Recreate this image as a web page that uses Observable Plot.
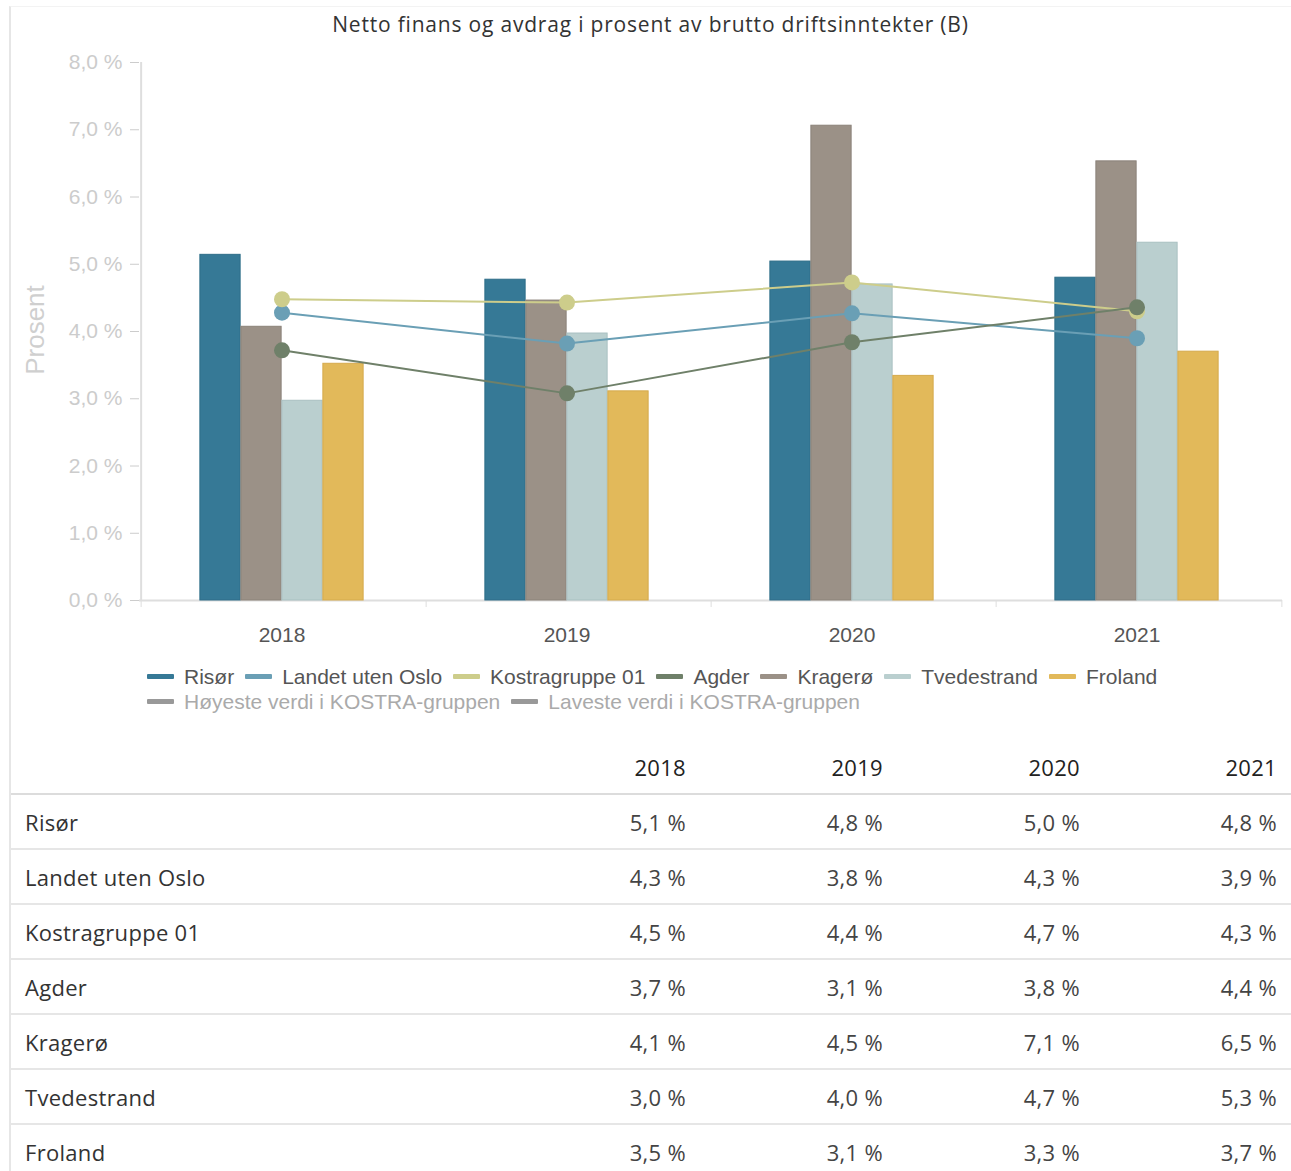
<!DOCTYPE html>
<html><head><meta charset="utf-8">
<script src="https://cdn.jsdelivr.net/npm/d3@7"></script>
<script src="https://cdn.jsdelivr.net/npm/@observablehq/plot@0.6"></script>
<style>
html,body{margin:0;padding:0;background:#fff;}
body{width:1291px;height:1171px;overflow:hidden;position:relative;font-family:"Open Sans",sans-serif;}
#frame{position:absolute;left:9px;top:6px;width:1282px;height:1165px;border-left:2px solid #e6e6e6;border-top:1px solid #f3f3f3;box-sizing:border-box;}
#title{position:absolute;left:10px;width:1281px;top:10px;text-align:center;font-size:21px;letter-spacing:0.8px;color:#333;}
#ylabel{position:absolute;left:35px;top:330px;transform:translate(-50%,-50%) rotate(-90deg);font-family:"Liberation Sans",Arial,sans-serif;font-size:26px;color:#cfcfcf;white-space:nowrap;}
#chart{position:absolute;left:0;top:45px;}
#legend{position:absolute;left:147px;top:664px;font-family:"Liberation Sans",Arial,sans-serif;font-size:21px;line-height:25px;}
.lrow{display:flex;align-items:center;white-space:nowrap;}
.item{display:flex;align-items:center;margin-right:11px;}
.sw{width:27px;height:5px;margin-right:10px;border-radius:1px;}
table{position:absolute;left:11px;top:740px;width:1280px;border-collapse:collapse;table-layout:fixed;font-family:"Open Sans",sans-serif;font-size:22px;letter-spacing:0.3px;color:#333;}
td,th{height:53px;padding:0 10px 0 0;border-bottom:2px solid #e6e6e6;text-align:right;white-space:nowrap;color:#444;}
th{font-weight:500;color:#222;border-bottom:2px solid #dcdcdc;}
td.lab{text-align:left;padding-left:14px;color:#333;}
td:last-child,th:last-child{padding-right:14px;}
</style>
</head><body>
<div id="frame"></div>
<div id="title">Netto finans og avdrag i prosent av brutto driftsinntekter (B)</div>
<div id="ylabel">Prosent</div>
<div id="chart"></div>
<div id="legend"></div>
<table id="tbl"></table>
<script>
// ---- data ----
const years = ["2018", "2019", "2020", "2021"];
const risor = [5.14, 4.77, 5.04, 4.80];
const landet = [4.28, 3.82, 4.27, 3.90];
const kostra = [4.48, 4.43, 4.73, 4.30];
const agder = [3.72, 3.08, 3.84, 4.36];
const kragero = [4.07, 4.46, 7.06, 6.53];
const tvedestrand = [2.97, 3.97, 4.70, 5.32];
const froland = [3.52, 3.11, 3.34, 3.70];
const yTicks = [0, 1, 2, 3, 4, 5, 6, 7, 8];

const seriesNames = ["Risør", "Landet uten Oslo", "Kostragruppe 01", "Agder", "Kragerø", "Tvedestrand", "Froland"];
const seriesValues = [risor, landet, kostra, agder, kragero, tvedestrand, froland];
const seriesColors = ["#367996", "#6a9fb5", "#cdcd8b", "#6f8069", "#9b9187", "#bacfcf", "#e2b95a"];
const seriesStrokes = ["#2e6d88", "#6a9fb5", "#cdcd8b", "#6f8069", "#8b8279", "#a9c0c1", "#d5aa4c"];
const barSeries = ["Risør", "Kragerø", "Tvedestrand", "Froland"];
const lineSeries = ["Landet uten Oslo", "Kostragruppe 01", "Agder"];
const extraLegend = ["Høyeste verdi i KOSTRA-gruppen", "Laveste verdi i KOSTRA-gruppen"];

const rows = [];
seriesNames.forEach((s, i) => years.forEach((y, j) => rows.push({series: s, year: y, value: seriesValues[i][j]})));
const colorOf = s => seriesColors[seriesNames.indexOf(s)];
const strokeOf = s => seriesStrokes[seriesNames.indexOf(s)];

const W = 1291, ML = 139, MR = 9;
const bw = (W - ML - MR) / years.length;
const barW = 41;
const inset = (bw - barW) / 2;
const fmt = v => v.toFixed(1).replace(".", ",") + " %";

const marks = [];
marks.push(Plot.ruleY([0], {stroke: "#dedede", strokeWidth: 2}));
marks.push(Plot.ruleX([years[0]], {dx: -bw / 2, stroke: "#dedede", strokeWidth: 2}));
marks.push(Plot.axisY({ticks: yTicks, tickFormat: fmt, tickSize: 9, tickPadding: 8, fontSize: 21, color: "#cccccc", label: null}));
marks.push(Plot.axisX({tickSize: 0, tickPadding: 27, fontSize: 21, color: "#555", label: null, dx: -2}));
marks.push(Plot.axisX({tickSize: 7, tickFormat: () => "", dx: -bw / 2, color: "#dedede", label: null}));
marks.push(Plot.axisX({ticks: [years[years.length - 1]], tickSize: 7, tickFormat: () => "", dx: bw / 2, color: "#dedede", label: null}));
barSeries.forEach((s, i) => {
  marks.push(Plot.barY(rows.filter(r => r.series === s), {
    x: "year", y: "value", fill: colorOf(s), stroke: strokeOf(s), strokeWidth: 1,
    dx: (i - (barSeries.length - 1) / 2) * barW - 2, insetLeft: inset, insetRight: inset
  }));
});
lineSeries.forEach(s => {
  const d = rows.filter(r => r.series === s);
  marks.push(Plot.line(d, {x: "year", y: "value", stroke: colorOf(s), strokeWidth: 2, dx: -2}));
  marks.push(Plot.dot(d, {x: "year", y: "value", r: 8, fill: colorOf(s), dx: -2}));
});

const chart = Plot.plot({
  width: W, height: 610,
  marginLeft: ML, marginRight: MR, marginTop: 17, marginBottom: 55,
  style: {fontFamily: "'Liberation Sans', Arial, sans-serif", background: "transparent"},
  x: {type: "band", domain: years, padding: 0, axis: null},
  y: {domain: [0, 8], axis: null},
  marks
});
document.getElementById("chart").appendChild(chart);

// legend
const legend = document.getElementById("legend");
const r1 = document.createElement("div"); r1.className = "lrow";
seriesNames.forEach(s => {
  const it = document.createElement("div"); it.className = "item";
  it.innerHTML = `<span class="sw" style="background:${colorOf(s)}"></span><span style="color:#555">${s}</span>`;
  r1.appendChild(it);
});
const r2 = document.createElement("div"); r2.className = "lrow";
extraLegend.forEach(s => {
  const it = document.createElement("div"); it.className = "item";
  it.innerHTML = `<span class="sw" style="background:#999"></span><span style="color:#aaa">${s}</span>`;
  r2.appendChild(it);
});
legend.appendChild(r1); legend.appendChild(r2);

// table
const tbl = document.getElementById("tbl");
const colW = [488, 197, 197, 197, 201];
let html = "<colgroup>" + colW.map(w => `<col style="width:${w}px">`).join("") + "</colgroup>";
html += "<tr><th></th>" + years.map(y => `<th>${y}</th>`).join("") + "</tr>";
seriesNames.forEach((s, i) => {
  html += `<tr><td class="lab">${s}</td>` + seriesValues[i].map(v => `<td>${fmt(v)}</td>`).join("") + "</tr>";
});
tbl.innerHTML = html;
</script>
</body></html>
